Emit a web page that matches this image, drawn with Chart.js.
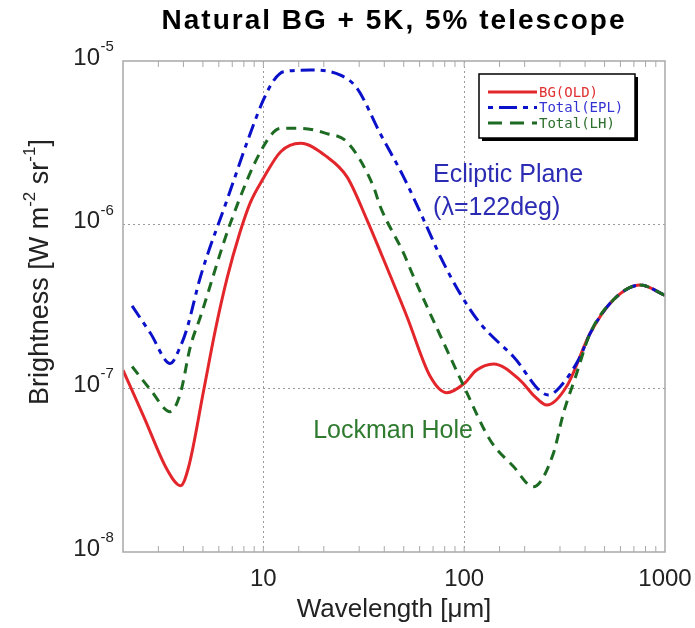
<!DOCTYPE html>
<html>
<head>
<meta charset="utf-8">
<title>Natural BG + 5K, 5% telescope</title>
<script src="https://cdn.jsdelivr.net/npm/chart.js@4"></script>
<style>
  body { margin: 0; background: #fff; }
  canvas { display: block; }
</style>
</head>
<body>
<canvas id="bgChart" width="695" height="628"></canvas>
<script>
// values (wavelength in um, brightness in W m-2 sr-1)
const bgWave = [2.0, 2.54, 3.32, 3.87, 4.25, 5.05, 5.77, 6.62, 7.6, 8.6, 10, 12.2, 15.3, 20.7, 26.1, 32.8, 38.5, 51.9, 67.8, 82, 100, 115, 140, 190, 225, 258, 324, 424, 553, 752, 1000];
const bgValues = [1.29e-7, 6.7e-8, 3.18e-8, 2.54e-8, 3.33e-8, 9.8e-8, 2.28e-7, 4.79e-7, 8.77e-7, 1.36e-6, 1.92e-6, 2.79e-6, 3.14e-6, 2.6e-6, 1.96e-6, 1.07e-6, 6.7e-7, 2.74e-7, 1.18e-7, 9.4e-8, 1.07e-7, 1.29e-7, 1.41e-7, 1.12e-7, 8.9e-8, 7.9e-8, 1.03e-7, 2.17e-7, 3.47e-7, 4.28e-7, 3.7e-7];

const eplWave = [2.22, 2.74, 3.44, 3.86, 4.17, 4.86, 6.6, 8.6, 10, 11.3, 12.6, 17.1, 24.2, 29.3, 38.2, 49.9, 64, 76, 95, 120, 176, 263, 300, 378, 424, 553, 752, 1000];
const eplValues = [3.19e-7, 2.17e-7, 1.42e-7, 1.8e-7, 2.33e-7, 4.8e-7, 1.42e-6, 3.6e-6, 5.78e-6, 7.65e-6, 8.6e-6, 8.8e-6, 8.2e-6, 6.8e-6, 3.6e-6, 1.96e-6, 1.02e-6, 6.4e-7, 3.83e-7, 2.5e-7, 1.56e-7, 9.1e-8, 1.02e-7, 1.56e-7, 2.17e-7, 3.47e-7, 4.28e-7, 3.7e-7];

const lhWave = [2.22, 2.74, 3.44, 3.86, 4.33, 4.86, 6.85, 10, 12.2, 15.3, 20.7, 26.1, 35.4, 38.1, 49.9, 56, 82, 100, 135, 176, 221, 278, 312, 358, 424, 553, 752, 1000];
const lhValues = [1.36e-7, 9.8e-8, 7.2e-8, 9.3e-8, 1.8e-7, 2.74e-7, 1.02e-6, 3.0e-6, 3.88e-6, 3.88e-6, 3.6e-6, 3.2e-6, 1.7e-6, 1.3e-6, 6.7e-7, 4.8e-7, 1.72e-7, 1.02e-7, 4.8e-8, 3.33e-8, 2.5e-8, 4.0e-8, 7.05e-8, 1.17e-7, 2.17e-7, 3.47e-7, 4.28e-7, 3.7e-7];

const seriesNames = ['BG(OLD)', 'Total(EPL)', 'Total(LH)'];
const xTickValues = [10, 100, 1000];
const yTickExps = [-8, -7, -6, -5];

// text notes, placed in data coordinates
const notes = [
  { text: 'Ecliptic Plane', x: 70, y: 2.0e-6, color: '#2b2bb4' },
  { text: '(\u03bb=122deg)', x: 70, y: 1.27e-6, color: '#2b2bb4' },
  { text: 'Lockman Hole', x: 17.7, y: 5.5e-8, color: '#2e7a2e' }
];

const FONT = "'Liberation Sans', Arial, sans-serif";
const RED = '#e3262b';
const BLUE = '#0b10c9';
const GREEN = '#1d6b22';

function toPoints(xs, ys) {
  const pts = [];
  for (let i = 0; i < xs.length; i++) pts.push({ x: xs[i], y: ys[i] });
  return pts;
}

function isInnerDecade(v, lo, hi) {
  const l = Math.log10(v);
  return Math.abs(l - Math.round(l)) < 1e-6 && v > lo * 1.001 && v < hi * 0.999;
}

const decor = {
  id: 'decor',
  afterDraw(chart) {
    const { ctx, chartArea: a, scales: { x, y } } = chart;
    ctx.save();

    // frame
    ctx.strokeStyle = '#a8a8a8';
    ctx.lineWidth = 1.5;
    ctx.strokeRect(a.left, a.top, a.right - a.left, a.bottom - a.top);

    // minor ticks pointing inward, top and bottom
    ctx.lineWidth = 1;
    ctx.beginPath();
    x.ticks.forEach(t => {
      const px = x.getPixelForValue(t.value);
      if (px <= a.left + 1 || px >= a.right - 1) return;
      ctx.moveTo(px, a.bottom); ctx.lineTo(px, a.bottom - 6);
      ctx.moveTo(px, a.top); ctx.lineTo(px, a.top + 6);
    });
    ctx.stroke();

    // y tick labels with superscript
    ctx.fillStyle = '#222';
    ctx.textBaseline = 'middle';
    yTickExps.forEach(e => {
      const py = y.getPixelForValue(Math.pow(10, e));
      ctx.font = '24px ' + FONT;
      ctx.textAlign = 'right';
      ctx.fillText('10', 100, py - 3);
      ctx.font = '15px ' + FONT;
      ctx.textAlign = 'left';
      ctx.fillText(String(e), 100.5, py - 14);
    });

    // y axis title
    ctx.save();
    ctx.translate(41, 272);
    ctx.rotate(-Math.PI / 2);
    const parts = [['Brightness [W m', 0], ['-2', 1], [' sr', 0], ['-1', 1], [']', 0]];
    let total = 0;
    parts.forEach(p => {
      ctx.font = (p[1] ? '17px ' : '27px ') + FONT;
      total += ctx.measureText(p[0]).width;
    });
    let cx = -total / 2;
    ctx.textAlign = 'left';
    parts.forEach(p => {
      ctx.font = (p[1] ? '17px ' : '27px ') + FONT;
      ctx.fillText(p[0], cx, p[1] ? -11 : 0);
      cx += ctx.measureText(p[0]).width;
    });
    ctx.restore();

    // title
    ctx.fillStyle = '#000';
    ctx.font = 'bold 28px ' + FONT;
    ctx.textAlign = 'center';
    if ('letterSpacing' in ctx) ctx.letterSpacing = '2px';
    ctx.fillText('Natural BG + 5K, 5% telescope', (a.left + a.right) / 2, 21);
    if ('letterSpacing' in ctx) ctx.letterSpacing = '0px';

    // notes
    ctx.font = '25px ' + FONT;
    ctx.textAlign = 'left';
    notes.forEach(n => {
      ctx.fillStyle = n.color;
      ctx.fillText(n.text, x.getPixelForValue(n.x), y.getPixelForValue(n.y));
    });

    // legend box with shadow
    const bx = a.right - 186, by = a.top + 13, bw = 156, bh = 64;
    ctx.fillStyle = '#000';
    ctx.fillRect(bx + 3, by + 3, bw, bh);
    ctx.fillStyle = '#fff';
    ctx.fillRect(bx, by, bw, bh);
    ctx.strokeStyle = '#000';
    ctx.lineWidth = 1.5;
    ctx.strokeRect(bx, by, bw, bh);

    const legendColors = ['#e03030', '#3434d4', '#2d6e2d'];
    const legendDash = [[], [5, 6, 18, 6], [14, 8]];
    ctx.font = "14px 'DejaVu Sans Mono', monospace";
    chart.data.datasets.forEach((ds, i) => {
      const ly = by + 18 + i * 15.5;
      ctx.strokeStyle = ds.borderColor;
      ctx.lineWidth = 3;
      ctx.setLineDash(legendDash[i]);
      ctx.beginPath();
      ctx.moveTo(bx + 9, ly);
      ctx.lineTo(bx + 58, ly);
      ctx.stroke();
      ctx.setLineDash([]);
      ctx.fillStyle = legendColors[i];
      ctx.fillText(ds.label, bx + 60, ly + 1);
    });

    ctx.restore();
  }
};

const ctxEl = document.getElementById('bgChart');

const bgChart = new Chart(ctxEl, {
  type: 'line',
  data: {
    datasets: [
      {
        label: seriesNames[0],
        data: toPoints(bgWave, bgValues),
        borderColor: RED,
        borderWidth: 3,
        order: 3
      },
      {
        label: seriesNames[1],
        data: toPoints(eplWave, eplValues),
        borderColor: BLUE,
        borderWidth: 3,
        borderDash: [14, 6, 5, 6],
        order: 2
      },
      {
        label: seriesNames[2],
        data: toPoints(lhWave, lhValues),
        borderColor: GREEN,
        borderWidth: 3,
        borderDash: [10, 7],
        order: 1
      }
    ]
  },
  options: {
    responsive: false,
    animation: false,
    parsing: false,
    layout: { padding: { top: 61, right: 30, left: 0, bottom: 0 } },
    elements: {
      point: { radius: 0 },
      line: { cubicInterpolationMode: 'monotone', fill: false, borderCapStyle: 'butt' }
    },
    plugins: {
      legend: { display: false },
      title: { display: false },
      tooltip: { enabled: false }
    },
    scales: {
      x: {
        type: 'logarithmic',
        min: 2,
        max: 1000,
        afterFit: s => { s.height = 76; s.paddingLeft = 0; s.paddingRight = 0; },
        grid: {
          drawTicks: false,
          lineWidth: 1,
          color: c => (c.tick && isInnerDecade(c.tick.value, 2, 1000)) ? '#9a9a9a' : 'rgba(0,0,0,0)'
        },
        border: { display: false, dash: [2, 3] },
        ticks: {
          autoSkip: false,
          maxRotation: 0,
          padding: 13,
          color: '#222',
          font: { size: 24, family: FONT },
          callback: v => {
            const m = xTickValues.find(t => Math.abs(t - v) / t < 1e-6);
            return m ? String(m) : '';
          }
        },
        title: {
          display: true,
          text: 'Wavelength [\u03bcm]',
          color: '#222',
          font: { size: 26, family: FONT },
          padding: { top: 0, bottom: 3 }
        }
      },
      y: {
        type: 'logarithmic',
        min: 1e-8,
        max: 1e-5,
        afterFit: s => { s.width = 123; },
        grid: {
          drawTicks: false,
          lineWidth: 1,
          color: c => (c.tick && isInnerDecade(c.tick.value, 1e-8, 1e-5)) ? '#9a9a9a' : 'rgba(0,0,0,0)'
        },
        border: { display: false, dash: [2, 3] },
        ticks: { display: false }
      }
    }
  },
  plugins: [decor]
});
</script>
</body>
</html>
